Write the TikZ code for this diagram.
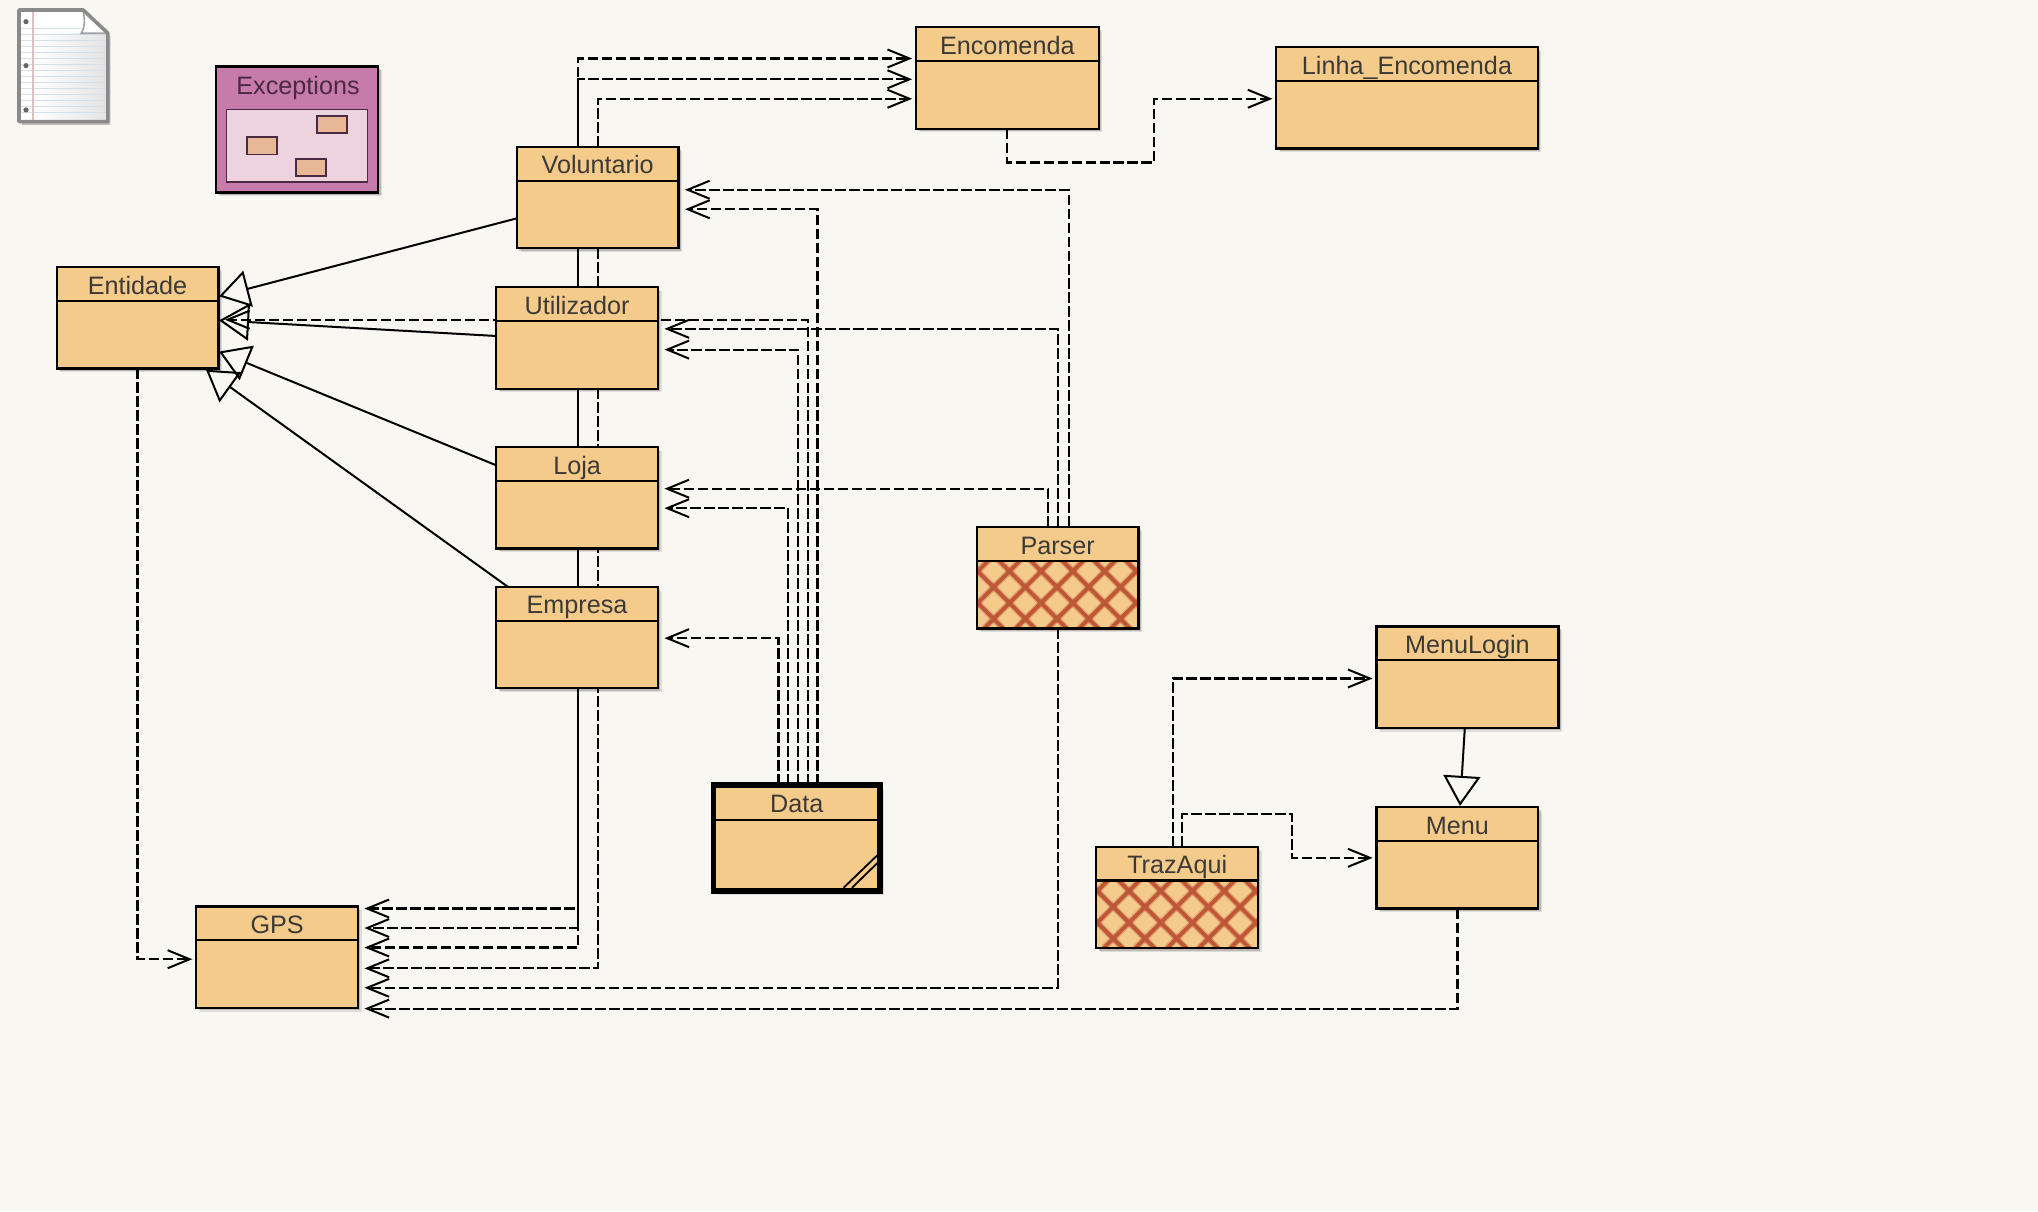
\documentclass[tikz,border=0pt]{standalone}
\usepackage{fontspec}
\setmainfont{Liberation Sans}
\usetikzlibrary{arrows.meta,backgrounds,shadows}
\definecolor{fundo}{HTML}{F8F7F2}
\definecolor{laranja}{HTML}{F5CB8C}
\definecolor{texto}{HTML}{3C3A36}
\definecolor{rosa}{HTML}{C77BAA}
\definecolor{rosaclaro}{HTML}{ECD3DE}
\definecolor{vinho}{HTML}{4A2A42}
\definecolor{salmao}{HTML}{E8B896}
\definecolor{tijolo}{HTML}{BF5638}
\definecolor{folha}{HTML}{8A8A8A}
\definecolor{pauta}{HTML}{D5DFEA}
\tikzset{
  sombra/.style={
    drop shadow={shadow xshift=1.9pt,shadow yshift=-1.9pt,opacity=.10,fill=black},
    drop shadow={shadow xshift=1.2pt,shadow yshift=-1.2pt,opacity=.16,fill=black}},
  caixa/.style={draw=black,line width=1.1pt,fill=laranja,outer sep=0pt,inner sep=0pt,
    minimum width=80.9pt,minimum height=50.7pt,sombra},
  cabeca/.style={draw=black,line width=1.1pt,fill=laranja,outer sep=0pt,inner sep=0pt,
    minimum width=80.9pt,minimum height=16.9pt,anchor=north,text=texto,
    font=\fontsize{12.6pt}{15pt}\selectfont,text height=11.6pt,text depth=1.5pt},
  trama/.style={path picture={
    \foreach \i in {-5,...,9} {
      \draw[tijolo,line width=3.2pt,opacity=.35] ([shift={(\i*24.4+5.6,0)}]path picture bounding box.south west) -- ++(90,-90);
      \draw[tijolo,line width=3.2pt,opacity=.35] ([shift={(\i*24.4+20.4,0)}]path picture bounding box.south west) -- ++(-90,-90);
      \draw[tijolo,line width=1.9pt] ([shift={(\i*24.4+5.6,0)}]path picture bounding box.south west) -- ++(90,-90);
      \draw[tijolo,line width=1.9pt] ([shift={(\i*24.4+20.4,0)}]path picture bounding box.south west) -- ++(-90,-90);
    }}},
  dep/.style={black,line width=1.1pt,dash pattern=on 5.3pt off 1.7pt,
    -{Straight Barb[length=11pt,width=9pt,line width=1pt]}},
  heranca/.style={black,line width=1pt,
    -{Triangle[open,length=15pt,width=18.5pt,line width=1pt]}},
  pacote/.style={draw=black,line width=1.25pt,fill=rosa,outer sep=0pt,inner sep=0pt,sombra},
  peca/.style={draw=vinho,line width=.9pt,fill=salmao,outer sep=0pt,inner sep=0pt,
    minimum width=15.3pt,minimum height=8.6pt}
}
\begin{document}
\begin{tikzpicture}[x=.65pt,y=-.65pt]
  \useasboundingbox (0,0) rectangle (1568,932);

  % classes
  \node[caixa,minimum width=91.3pt] (encomenda) at (775,60) {};
  \node[cabeca,minimum width=91.3pt] (encomendaT) at (encomenda.north) {Encomenda};
  \node[caixa,minimum width=130.65pt] (linha) at (1082.5,75.3) {};
  \node[cabeca,minimum width=130.65pt] (linhaT) at (linha.north) {Linha\_Encomenda};
  \node[caixa] (voluntario) at (459.8,152) {};
  \node[cabeca] (voluntarioT) at (voluntario.north) {Voluntario};
  \node[caixa] (entidade) at (105.8,244.5) {};
  \node[cabeca] (entidadeT) at (entidade.north) {Entidade};
  \node[caixa] (utilizador) at (444,260) {};
  \node[cabeca] (utilizadorT) at (utilizador.north) {Utilizador};
  \node[caixa] (loja) at (444,383) {};
  \node[cabeca] (lojaT) at (loja.north) {Loja};
  \node[caixa] (empresa) at (444,490.5) {};
  \node[cabeca] (empresaT) at (empresa.north) {Empresa};
  \node[caixa,minimum width=91pt] (menulogin) at (1129,521) {};
  \node[cabeca,minimum width=91pt] (menuloginT) at (menulogin.north) {MenuLogin};
  \node[caixa] (menu) at (1121.3,660) {};
  \node[cabeca] (menuT) at (menu.north) {Menu};
  \node[caixa] (gps) at (213.2,736.5) {};
  \node[cabeca] (gpsT) at (gps.north) {GPS};

  % classes com main
  \node[caixa,trama] (parser) at (813.7,444.5) {};
  \node[cabeca] (parserT) at (parser.north) {Parser};
  \node[caixa,trama] (trazaqui) at (905.7,690.5) {};
  \node[cabeca] (trazaquiT) at (trazaqui.north) {TrazAqui};

  % classe ativa
  \node[caixa,line width=2.85pt,minimum width=83.2pt,minimum height=53pt] (data) at (613,644.75) {};
  \node[cabeca,draw=none,fill=none,minimum width=83.2pt,minimum height=17.5pt] (dataT) at (data.north) {Data};
  \draw[line width=1.1pt] ([shift={(0,27)}]data.north west) -- ([shift={(0,27)}]data.north east);
  \draw[line width=.9pt] ([shift={(-28,-2.5)}]data.south east) -- ([shift={(-2,-27.5)}]data.south east);
  \draw[line width=.9pt] ([shift={(-21.5,-2.5)}]data.south east) -- ([shift={(-2,-21.5)}]data.south east);

  % pacote
  \node[pacote,minimum width=81.25pt,minimum height=62.9pt] (exceptions) at (228.5,99.7) {};
  \node[text=vinho,inner sep=0pt,font=\fontsize{12.6pt}{15pt}\selectfont,text height=11.6pt,text depth=1.5pt] (exceptionsT) at (229.3,64.7) {Exceptions};
  \node[draw=vinho,line width=.6pt,fill=rosaclaro,outer sep=0pt,minimum width=70.5pt,minimum height=36.4pt] (interior) at (228.6,112) {};
  \node[peca] (pecaA) at (255.4,95.6) {};
  \node[peca] (pecaB) at (201.5,112.3) {};
  \node[peca] (pecaC) at (239.2,129) {};

  % ficheiro
  \fill[black,opacity=.22] (17,10) -- (66,10) -- (85,28) -- (85,96) -- (17,96) -- cycle;
  \fill[white] (14.6,7.7) -- (64,7.7) -- (83,25.6) -- (83,93.6) -- (14.6,93.6) -- cycle;
  \shade[left color=white,right color=black!11] (26,26) rectangle (83,93.6);
  \foreach \y in {22,26.6,...,90} \draw[pauta,line width=.7pt] (16,\y) -- (82,\y);
  \fill[white] (27,9) -- (63,9) -- (63,21) -- (27,21) -- cycle;
  \draw[red!30!folha!40,line width=.8pt] (25.6,8.5) -- (25.6,93);
  \foreach \y in {16.7,50.5,84.6} \fill[black!60] (20,\y) circle (2);
  \fill[white] (64,8) -- (83,25.6) -- (62.5,25.6) .. controls (66,20) and (65,14) .. (64,8);
  \draw[folha!80,line width=.8pt] (64,8) .. controls (65,14) and (66,20) .. (62.5,25.6) -- (83,25.6);
  \draw[folha,line width=1.8pt,line join=round] (14.6,7.7) -- (64,7.7) -- (83,25.6) -- (83,93.6) -- (14.6,93.6) -- cycle;

  % dependencias
  \begin{scope}[on background layer]
    \fill[fundo] (0,0) rectangle (1568,932);
    \draw[dep] (voluntario.north) |- ([shift={(-3,16)}]encomenda.west);
    \draw[dep] ([shift={(1,0)}]utilizador.north) |- ([shift={(-3,-15)}]encomenda.west);
    \draw[dep] ([shift={(1,0)}]loja.north) |- ([shift={(-3,1)}]encomenda.west);
    \draw[dep] (encomenda.south) -- ++(0,26) -- ++(113,0) |- ([shift={(-3,.7)}]linha.west);

    \draw[dep] (voluntario.south) |- ([shift={(5,8.5)}]gps.east);
    \draw[dep] ([shift={(1,0)}]utilizador.south) |- ([shift={(5,-7.5)}]gps.east);
    \draw[dep] ([shift={(1,0)}]loja.south) |- ([shift={(5,-22.5)}]gps.east);
    \draw[dep] ([shift={(1,0)}]empresa.south) |- ([shift={(5,-37.5)}]gps.east);
    \draw[dep] (entidade.south) |- ([shift={(-3,1.5)}]gps.west);
    \draw[dep] (parser.south) |- ([shift={(5,23.5)}]gps.east);
    \draw[dep] (menu.south) |- ([shift={(5,39.5)}]gps.east);

    \draw[dep] ([shift={(16,0)}]data.north) |- ([shift={(5,9)}]voluntario.east);
    \draw[dep] ([shift={(8.5,0)}]data.north) |- ([shift={(5,1.5)}]entidade.east);
    \draw[dep] ([shift={(1,0)}]data.north) |- ([shift={(5,9)}]utilizador.east);
    \draw[dep] ([shift={(-7,0)}]data.north) |- ([shift={(5,8)}]loja.east);
    \draw[dep] ([shift={(-14,0)}]data.north) |- ([shift={(5,.5)}]empresa.east);

    \draw[dep] ([shift={(8.5,0)}]parser.north) |- ([shift={(5,-6)}]voluntario.east);
    \draw[dep] (parser.north) |- ([shift={(5,-7)}]utilizador.east);
    \draw[dep] ([shift={(-7.5,0)}]parser.north) |- ([shift={(5,-7)}]loja.east);

    \draw[dep] ([shift={(-3.5,0)}]trazaqui.north) |- ([shift={(-3,1)}]menulogin.west);
    \draw[dep] ([shift={(3.5,0)}]trazaqui.north) -- ++(0,-25) -- ++(85,0) |- ([shift={(-3,0)}]menu.west);
  \end{scope}

  % heranca
  \draw[heranca] ([shift={(0,16)}]voluntario.west) -- ([shift={(.5,-16.5)}]entidade.east);
  \draw[heranca] ([shift={(0,-1.5)}]utilizador.west) -- ([shift={(.5,2)}]entidade.east);
  \draw[heranca] ([shift={(0,-25)}]loja.west) -- ([shift={(.5,26)}]entidade.east);
  \draw[heranca] ([shift={(9,0)}]empresa.north west) -- ([shift={(-9.5,1)}]entidade.south east);
  \draw[heranca] ([shift={(-2,0)}]menulogin.south) -- ([shift={(2,-1)}]menu.north);
\end{tikzpicture}
\end{document}
